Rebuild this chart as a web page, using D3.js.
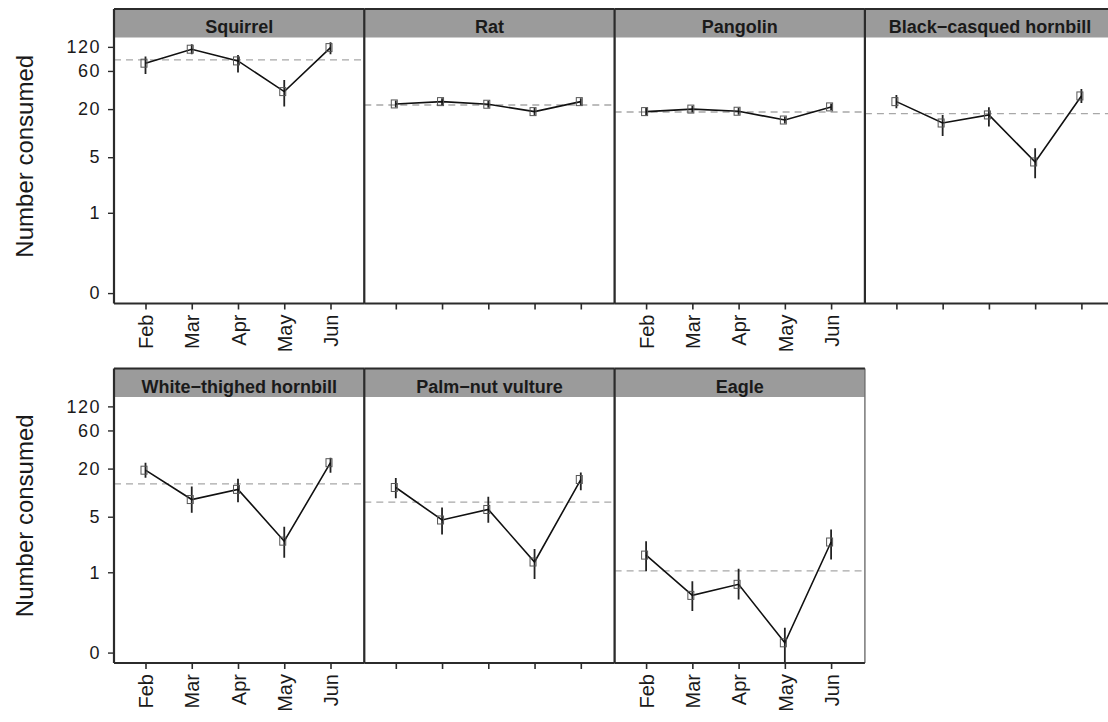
<!DOCTYPE html>
<html>
<head>
<meta charset="utf-8">
<script src="https://cdn.jsdelivr.net/npm/d3@7"></script>
<style>
html, body { margin: 0; padding: 0; background: #fff; }
svg { display: block; }
</style>
</head>
<body>
<svg id="chart" width="1108" height="722"></svg>
<script>
// ---------------- data ----------------
const months = ["Feb", "Mar", "Apr", "May", "Jun"];
const species = ["Squirrel", "Rat", "Pangolin", "Black\u2212casqued hornbill",
                 "White\u2212thighed hornbill", "Palm\u2212nut vulture", "Eagle"];
const yTicks = [0, 1, 5, 20, 60, 120];

// estimated number consumed per month (one row per species)
const estimate = [
  [75.0, 112.2, 80.1, 33.1, 117.5],
  [23.2, 24.8, 23.0, 18.6, 24.8],
  [18.6, 20.0, 18.8, 14.6, 21.3],
  [24.8, 13.4, 16.9, 4.36, 29.2],
  [19.1, 8.2, 11.0, 2.47, 23.7],
  [11.6, 4.55, 6.16, 1.35, 14.6],
  [1.65, 0.50, 0.70, 0.057, 2.41]
];
// lower and upper ends of the error bars
const lower = [
  [55.1, 97.2, 57.2, 21.5, 97.2],
  [21.0, 22.4, 20.8, 16.8, 22.4],
  [16.8, 18.1, 17.0, 13.2, 19.3],
  [20.5, 9.2, 12.1, 2.72, 23.9],
  [15.4, 5.6, 7.6, 1.53, 17.7],
  [8.5, 3.0, 4.2, 0.82, 10.7],
  [1.03, 0.30, 0.44, -0.06, 1.45]
];
const upper = [
  [90.7, 129.6, 95.2, 46.3, 137.3],
  [25.6, 27.4, 25.4, 20.6, 27.4],
  [20.6, 22.1, 20.8, 16.2, 23.5],
  [30.1, 16.9, 21.1, 6.47, 35.7],
  [23.7, 11.9, 14.9, 3.74, 27.3],
  [15.3, 6.53, 8.9, 1.97, 17.9],
  [2.47, 0.77, 1.11, 0.155, 3.46]
];
// overall mean (dashed reference line)
const overall = [82.4, 22.5, 18.4, 17.6, 12.9, 7.6, 1.04];

// ---------------- layout ----------------
const svg = d3.select("#chart");
const font = "'Liberation Sans', Arial, Helvetica, sans-serif";
const panelLeft = 114, panelW = 250.3;
const rowTops = [9, 368.5];
const stripH = 28.5, bodyH = 266;
const dark = "#2b2b2b";

// inverse-hyperbolic-sine style transform used by the y axis
const tf = v => Math.asinh(v / 0.2);
const y = d3.scaleLinear().domain([-0.30, 7.36]).range([bodyH, 0]);
const x = d3.scalePoint().domain(months).range([31.5, 216.5]);

species.forEach((name, i) => {
  const row = Math.floor(i / 4), col = i % 4;
  const x0 = panelLeft + col * panelW, top = rowTops[row];
  const g = svg.append("g").attr("transform", `translate(${x0},${top})`);

  // strip
  g.append("rect").attr("x", 0).attr("y", 0).attr("width", panelW).attr("height", stripH)
    .attr("fill", "#9b9b9b");
  g.append("text").attr("x", panelW / 2).attr("y", 24.3)
    .attr("text-anchor", "middle").attr("font-family", font).attr("font-weight", "bold")
    .attr("font-size", 18).attr("fill", "#1a1a1a").text(name);

  const body = g.append("g").attr("transform", `translate(0,${stripH})`);
  const clipId = "clip" + i;
  body.append("clipPath").attr("id", clipId).append("rect")
    .attr("x", 0).attr("y", 0).attr("width", panelW).attr("height", bodyH);
  const plot = body.append("g").attr("clip-path", `url(#${clipId})`);

  // dashed overall mean
  plot.append("line")
    .attr("x1", 0).attr("x2", panelW)
    .attr("y1", y(tf(overall[i]))).attr("y2", y(tf(overall[i])))
    .attr("stroke", "#a8a8a8").attr("stroke-width", 1.3).attr("stroke-dasharray", "7,5");

  const pts = months.map((m, j) => ({ m, v: estimate[i][j], lo: lower[i][j], hi: upper[i][j] }));

  // error bars
  plot.selectAll("line.err").data(pts).join("line").attr("class", "err")
    .attr("x1", d => x(d.m)).attr("x2", d => x(d.m))
    .attr("y1", d => y(tf(d.lo))).attr("y2", d => y(tf(d.hi)))
    .attr("stroke", "#222").attr("stroke-width", 1.8);

  // connecting line
  plot.append("path").datum(pts)
    .attr("d", d3.line().x(d => x(d.m)).y(d => y(tf(d.v))))
    .attr("fill", "none").attr("stroke", "#111").attr("stroke-width", 1.6);

  // square markers
  plot.selectAll("rect.pt").data(pts).join("rect").attr("class", "pt")
    .attr("x", d => x(d.m) - 1.5 - 3).attr("y", d => y(tf(d.v)) - 4)
    .attr("width", 6).attr("height", 8)
    .attr("fill", "none").attr("stroke", "#555").attr("stroke-width", 1);

  // x axis ticks (labels on alternate columns)
  const xAxis = d3.axisBottom(x).tickSize(6).tickSizeOuter(0).tickPadding(5);
  if (col % 2 !== 0) xAxis.tickFormat("");
  const xa = body.append("g").attr("transform", `translate(0,${bodyH})`).call(xAxis);
  xa.select(".domain").remove();
  xa.selectAll(".tick line").attr("stroke", dark).attr("stroke-width", 1.6);
  xa.selectAll(".tick text")
    .attr("font-family", font).attr("font-size", 20).attr("fill", "#1a1a1a")
    .attr("transform", "rotate(-90)")
    .attr("text-anchor", "end")
    .attr("x", -11).attr("y", 0).attr("dy", "0.36em");

  // y axis only in first column
  if (col === 0) {
    const yAxis = d3.axisLeft(y).tickValues(yTicks.map(tf))
      .tickFormat((d, k) => yTicks[k]).tickSize(6).tickSizeOuter(0).tickPadding(7);
    const ya = body.append("g").call(yAxis);
    ya.select(".domain").remove();
    ya.selectAll(".tick line").attr("stroke", dark).attr("stroke-width", 1.4);
    ya.selectAll(".tick text").attr("font-family", font).attr("font-size", 18)
      .attr("fill", "#1a1a1a").attr("letter-spacing", 1.5);

    g.append("text")
      .attr("transform", `translate(${33 - x0},${(stripH + bodyH) / 2}) rotate(-90)`)
      .attr("text-anchor", "middle").attr("font-family", font).attr("font-size", 24)
      .attr("fill", "#1a1a1a").text("Number consumed");
  }

  // panel borders
  const fullH = stripH + bodyH;
  g.append("line").attr("x1", panelW).attr("x2", panelW).attr("y1", 0).attr("y2", fullH)
    .attr("stroke", "#6e6e6e").attr("stroke-width", 1.4);
  g.append("line").attr("x1", 0).attr("x2", panelW).attr("y1", 0).attr("y2", 0)
    .attr("stroke", dark).attr("stroke-width", 2);
  g.append("line").attr("x1", 0).attr("x2", panelW).attr("y1", fullH).attr("y2", fullH)
    .attr("stroke", dark).attr("stroke-width", 2.2);
  g.append("line").attr("x1", 0).attr("x2", 0).attr("y1", 0).attr("y2", fullH)
    .attr("stroke", dark).attr("stroke-width", 2.2);
});
</script>
</body>
</html>
